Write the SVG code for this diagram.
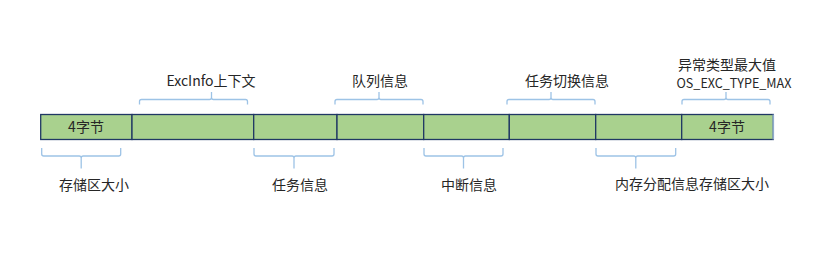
<svg xmlns="http://www.w3.org/2000/svg" width="820" height="254" viewBox="0 0 820 254">
<style>
.seg{fill:#A9D18E;stroke:#203864;stroke-width:1.3}
.br{fill:none;stroke:#9DC3E6;stroke-width:1.3}
.t{font-family:"Noto Sans CJK SC","Noto Sans",sans-serif;font-size:14px;fill:#262626;text-anchor:middle}
</style>
<rect width="820" height="254" fill="#ffffff"/>
<g id="bar">
<g id="seg1"><rect class="seg" x="40.7" y="114.5" width="91.3" height="25"/><text class="t" x="86" y="132">4字节</text></g>
<g id="seg2"><rect class="seg" x="132" y="114.5" width="121.7" height="25"/></g>
<g id="seg3"><rect class="seg" x="253.7" y="114.5" width="83.3" height="25"/></g>
<g id="seg4"><rect class="seg" x="337" y="114.5" width="86.7" height="25"/></g>
<g id="seg5"><rect class="seg" x="423.7" y="114.5" width="85.6" height="25"/></g>
<g id="seg6"><rect class="seg" x="509.3" y="114.5" width="86.4" height="25"/></g>
<g id="seg7"><rect class="seg" x="595.7" y="114.5" width="86" height="25"/></g>
<g id="seg8"><rect class="seg" x="681.7" y="114.5" width="91.6" height="25"/><line x1="773.3" y1="114.5" x2="773.3" y2="139.5" stroke="#8FAACC" stroke-width="1.6"/><text class="t" x="727" y="132">4字节</text></g>
</g>
<g id="connectors">
<path class="br" d="M139.5,104.5 v-3 q0,-2 2,-2 h68 q2,0 2,-2 v-5.5 M211.5,97.5 q0,2 2,2 h32 q2,0 2,2 v3"/>
<path class="br" d="M335,104.5 v-3 q0,-2 2,-2 h40 q2,0 2,-2 v-5.5 M379,97.5 q0,2 2,2 h40 q2,0 2,2 v3"/>
<path class="br" d="M507,104.5 v-3 q0,-2 2,-2 h40 q2,0 2,-2 v-5.5 M551,97.5 q0,2 2,2 h40 q2,0 2,2 v3"/>
<path class="br" d="M682,104.5 v-3 q0,-2 2,-2 h40 q2,0 2,-2 v-5.5 M726,97.5 q0,2 2,2 h40 q2,0 2,2 v3"/>
<path class="br" d="M41.7,148 v6 q0,2 2,2 h35.5 q2,0 2,2 v10.5 M81.2,158 q0,-2 2,-2 h35.5 q2,0 2,-2 v-6"/>
<path class="br" d="M254,148 v6 q0,2 2,2 h36 q2,0 2,2 v10.5 M294,158 q0,-2 2,-2 h36 q2,0 2,-2 v-6"/>
<path class="br" d="M424,148 v6 q0,2 2,2 h35.5 q2,0 2,2 v10.5 M463.5,158 q0,-2 2,-2 h35.5 q2,0 2,-2 v-6"/>
<path class="br" d="M596,148 v6 q0,2 2,2 h35.8 q2,0 2,2 v10.5 M635.8,158 q0,-2 2,-2 h35.9 q2,0 2,-2 v-6"/>
</g>
<g id="labels">
<text class="t" x="211" y="86">ExcInfo上下文</text>
<text class="t" x="380" y="86">队列信息</text>
<text class="t" x="567" y="86">任务切换信息</text>
<text class="t" x="727" y="69.5">异常类型最大值</text>
<text class="t" x="734" y="87.5" style="font-size:13px" textLength="115" lengthAdjust="spacingAndGlyphs">OS_EXC_TYPE_MAX</text>
<text class="t" x="94" y="190">存储区大小</text>
<text class="t" x="300" y="190">任务信息</text>
<text class="t" x="469" y="190">中断信息</text>
<text class="t" x="692" y="189">内存分配信息存储区大小</text>
</g>
</svg>
